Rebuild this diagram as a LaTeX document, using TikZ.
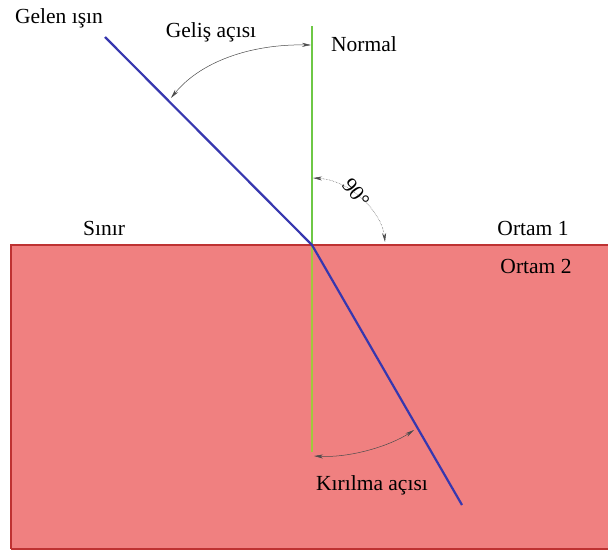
\documentclass[tikz,border=0pt]{standalone}
\usepackage{fontspec}
\setmainfont{Liberation Serif}
\usetikzlibrary{arrows.meta}
\definecolor{medium}{RGB}{240,128,128}
\definecolor{edgered}{RGB}{190,50,50}
\definecolor{raycol}{RGB}{55,55,175}
\definecolor{normcol}{RGB}{110,200,70}
\definecolor{normlow}{RGB}{160,200,60}
\tikzset{
  lbl/.style={font=\fontsize{21.5}{24}\selectfont, inner sep=1pt},
  ray/.style={draw=raycol, line width=2.2pt},
  arcline/.style={draw=black!70, line width=0.5pt, {Stealth[length=9pt,width=4pt]}-{Stealth[length=9pt,width=4pt]}},
}
\begin{document}
\begin{tikzpicture}[x=1pt,y=-1pt]
\useasboundingbox (0,0) rectangle (608,554);
\fill[white] (0,0) rectangle (608,554);
% medium 2
\fill[medium] (11,245) rectangle (608,549);
\draw[edgered, line width=1.5pt] (11,549) -- (11,245) -- (608,245);
\draw[edgered, line width=1.5pt] (11,549) -- (608,549);
% normal
\coordinate (ntop) at (312,26);
\coordinate (nbot) at (312,452);
\coordinate (O) at (312,245);
\draw[normcol, line width=1.6pt] (ntop) -- (O);
\draw[normlow, line width=1.6pt] (O) -- (nbot);
% rays
\coordinate (rin) at (105,37);
\coordinate (rout) at (462,505);
\draw[ray] (rin) -- (O) -- (rout);
% labels
\node[lbl] (gelen) at (59,18) {Gelen ışın};
\node[lbl] (gelis) at (211,32) {Geliş açısı};
\node[lbl] (normal) at (364,44) {Normal};
\node[lbl] (sinir) at (104,228) {Sınır};
\node[lbl] (o1) at (533,228) {Ortam 1};
\node[lbl] (o2) at (536,266) {Ortam 2};
\node[lbl] (kir) at (372,485) {Kırılma açısı};
\node[lbl, rotate=-52] (ninety) at (356,193) {90°};
% angle arcs
\coordinate (a1n) at (311,45);
\coordinate (a1r) at (171,98);
\draw[arcline] (a1n) .. controls (250,44) and (200,62) .. (a1r);
\coordinate (a2n) at (313,178);
\coordinate (a2b) at (385,242);
\draw[arcline, densely dotted] (a2n) .. controls (350,180) and (382,212) .. (a2b);
\coordinate (a3n) at (314,456);
\coordinate (a3r) at (414,430);
\draw[arcline] (a3n) .. controls (350,458) and (390,446) .. (a3r);
\end{tikzpicture}
\end{document}
